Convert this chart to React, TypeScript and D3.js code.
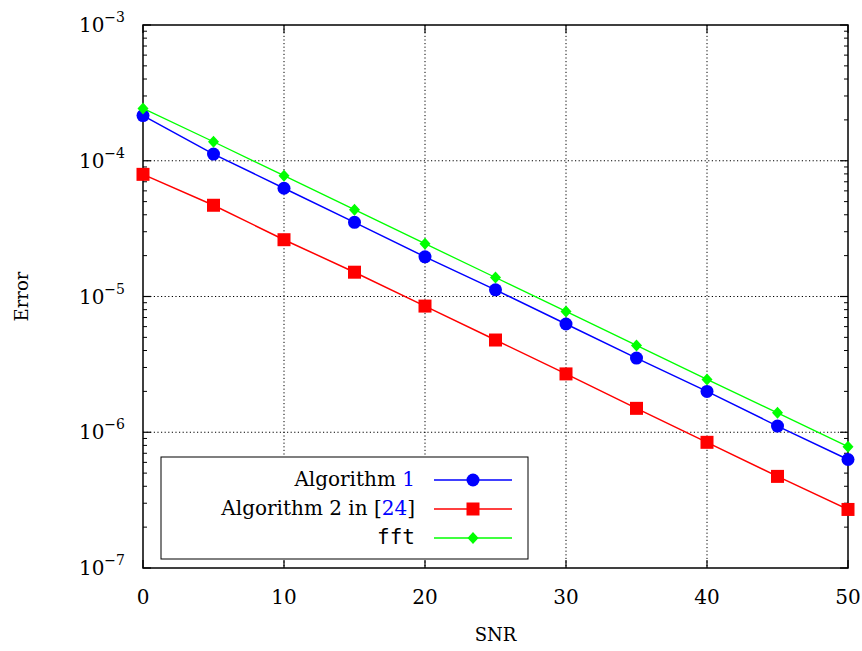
import React from 'react';
import * as d3 from 'd3';

const snr = [0, 5, 10, 15, 20, 25, 30, 35, 40, 45, 50];
const algo1 = [2.15e-4, 1.12e-4, 6.27e-5, 3.52e-5, 1.96e-5, 1.12e-5, 6.27e-6, 3.52e-6, 2.0e-6, 1.11e-6, 6.3e-7];
const algo2 = [7.94e-5, 4.7e-5, 2.62e-5, 1.51e-5, 8.5e-6, 4.78e-6, 2.69e-6, 1.5e-6, 8.43e-7, 4.73e-7, 2.7e-7];
const fft = [2.43e-4, 1.38e-4, 7.76e-5, 4.36e-5, 2.45e-5, 1.38e-5, 7.76e-6, 4.36e-6, 2.45e-6, 1.39e-6, 7.83e-7];
const xTicks = [0, 10, 20, 30, 40, 50];
const yExps = [-7, -6, -5, -4, -3];

const W = 862, H = 651;
const margin = { top: 25, right: 14, bottom: 83, left: 143 };
const serif = "'DejaVu Serif', serif";

export default function App() {
  const x = d3.scaleLinear().domain([0, 50]).range([margin.left, W - margin.right]);
  const y = d3.scaleLog().domain([1e-7, 1e-3]).range([H - margin.bottom, margin.top]);
  const x0 = x.range()[0], x1 = x.range()[1];
  const y0 = y.range()[0], y1 = y.range()[1];

  const line = (vals: number[]) =>
    d3.line<number>().x((d, i) => x(snr[i])).y(d => y(d))(vals) || '';

  // minor ticks for the log axis
  const minor: number[] = [];
  for (let e = -7; e < -3; e++) {
    for (let m = 2; m <= 9; m++) minor.push(m * Math.pow(10, e));
  }

  const circle = (cx: number, cy: number, k: string) => (
    <circle key={k} cx={cx} cy={cy} r={6.5} fill="#0000ff" />
  );
  const square = (cx: number, cy: number, k: string) => (
    <rect key={k} x={cx - 6.5} y={cy - 6.5} width={13} height={13} fill="#ff0000" />
  );
  const diamond = (cx: number, cy: number, k: string) => (
    <path key={k} d={`M${cx},${cy - 6}L${cx + 5.5},${cy}L${cx},${cy + 6}L${cx - 5.5},${cy}Z`} fill="#00ff00" />
  );

  const series = [
    { vals: algo1, color: '#0000ff', w: 1.5, mark: circle },
    { vals: algo2, color: '#ff0000', w: 1.5, mark: square },
    { vals: fft, color: '#00ff00', w: 1.3, mark: diamond },
  ];

  // legend
  const lg = { x: 161, y: 457, w: 367, h: 102 };
  const rows = [480, 509, 538];

  return (
    <svg width={W} height={H} style={{ position: 'absolute', left: 0, top: 0, background: '#fff' }}>
      <defs>
        <clipPath id="plot">
          <rect x={x0 - 8} y={y1 - 8} width={x1 - x0 + 16} height={y0 - y1 + 16} />
        </clipPath>
      </defs>

      {/* grid */}
      {xTicks.slice(1, -1).map(t => (
        <line key={'gx' + t} x1={x(t)} x2={x(t)} y1={y1} y2={y0} stroke="#000" strokeWidth={1} strokeDasharray="1.2,2.4" />
      ))}
      {yExps.slice(1, -1).map(e => (
        <line key={'gy' + e} x1={x0} x2={x1} y1={y(Math.pow(10, e))} y2={y(Math.pow(10, e))} stroke="#000" strokeWidth={1} strokeDasharray="1.2,2.4" />
      ))}

      {/* ticks */}
      {xTicks.map(t => (
        <g key={'tx' + t}>
          <line x1={x(t)} x2={x(t)} y1={y0} y2={y0 - 8} stroke="#000" strokeWidth={1.2} />
          <line x1={x(t)} x2={x(t)} y1={y1} y2={y1 + 8} stroke="#000" strokeWidth={1.2} />
          <text x={x(t)} y={y0 + 36} textAnchor="middle" fontFamily={serif} fontSize={20}>{t}</text>
        </g>
      ))}
      {yExps.map(e => {
        const yy = y(Math.pow(10, e));
        return (
          <g key={'ty' + e}>
            <line x1={x0} x2={x0 + 8} y1={yy} y2={yy} stroke="#000" strokeWidth={1.2} />
            <line x1={x1} x2={x1 - 8} y1={yy} y2={yy} stroke="#000" strokeWidth={1.2} />
            <text x={x0 - 18} y={yy + 7} textAnchor="end" fontFamily={serif} fontSize={20}>
              10<tspan dy={-10} fontSize={14}>{'\u2212' + (-e)}</tspan>
            </text>
          </g>
        );
      })}
      {minor.map((v, i) => (
        <g key={'mn' + i}>
          <line x1={x0} x2={x0 + 4} y1={y(v)} y2={y(v)} stroke="#000" strokeWidth={1} />
          <line x1={x1} x2={x1 - 4} y1={y(v)} y2={y(v)} stroke="#000" strokeWidth={1} />
        </g>
      ))}

      {/* frame */}
      <rect x={x0} y={y1} width={x1 - x0} height={y0 - y1} fill="none" stroke="#000" strokeWidth={1.5} />

      {/* series */}
      <g clipPath="url(#plot)">
        {series.map((s, si) => (
          <g key={'s' + si}>
            <path d={line(s.vals)} fill="none" stroke={s.color} strokeWidth={s.w} />
            {s.vals.map((v, i) => s.mark(x(snr[i]), y(v), 'm' + si + '-' + i))}
          </g>
        ))}
      </g>

      {/* legend */}
      <rect x={lg.x} y={lg.y} width={lg.w} height={lg.h} fill="#fff" stroke="#000" strokeWidth={1} />
      <text x={415} y={rows[0] + 6} textAnchor="end" fontFamily={serif} fontSize={20}>
        Algorithm <tspan fill="#0000ff">1</tspan>
      </text>
      <text x={415} y={rows[1] + 6} textAnchor="end" fontFamily={serif} fontSize={20}>
        Algorithm 2 in [<tspan fill="#0000ff">24</tspan>]
      </text>
      <text x={415} y={rows[2] + 6} textAnchor="end" fontFamily="'DejaVu Sans Mono', monospace" fontSize={21}>
        fft
      </text>
      {series.map((s, si) => (
        <g key={'lg' + si}>
          <line x1={434} x2={512} y1={rows[si]} y2={rows[si]} stroke={s.color} strokeWidth={s.w} />
          {s.mark(473, rows[si], 'lm' + si)}
        </g>
      ))}

      {/* axis labels */}
      <text x={(x0 + x1) / 2} y={641} textAnchor="middle" fontFamily={serif} fontSize={18}>SNR</text>
      <text transform={`translate(28,${(y0 + y1) / 2}) rotate(-90)`} textAnchor="middle" fontFamily={serif} fontSize={18}>Error</text>
    </svg>
  );
}
